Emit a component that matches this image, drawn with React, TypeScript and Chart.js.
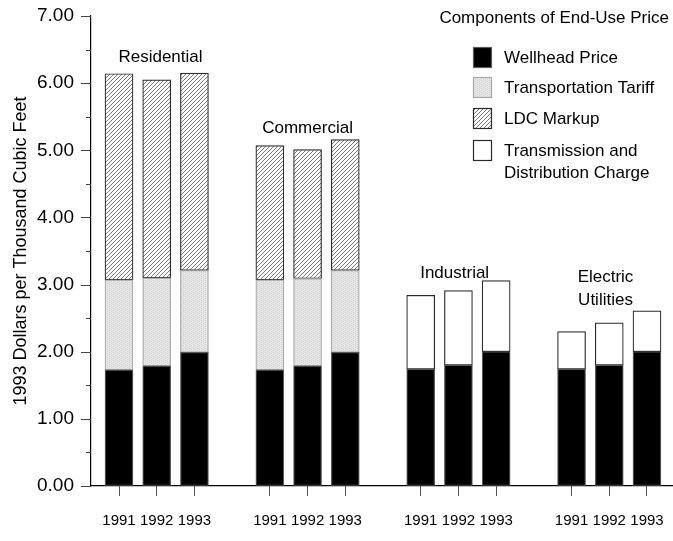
import React, { useEffect, useRef } from "react";
import { Chart, registerables } from "chart.js";

Chart.register(...registerables);

// ---------- data ----------
const groupNames = ["Residential", "Commercial", "Industrial", "Electric\nUtilities"];
const years = ["1991", "1992", "1993"];
const yAxisTitle = "1993 Dollars per Thousand Cubic Feet";
const legendTitle = "Components of End-Use Price";
const seriesNames = ["Wellhead Price", "Transportation Tariff", "LDC Markup", "Transmission and\nDistribution Charge"];

// values per group (1991, 1992, 1993); null = component not shown for that group
const wellheadPrice = [
  [1.73, 1.79, 1.99],
  [1.73, 1.79, 1.99],
  [1.74, 1.8, 2.0],
  [1.74, 1.8, 2.0],
];
const transportationTariff = [
  [1.34, 1.31, 1.22],
  [1.34, 1.3, 1.22],
  null,
  null,
];
const ldcMarkup = [
  [3.07, 2.95, 2.94],
  [2.0, 1.92, 1.95],
  null,
  null,
];
const transmissionDistribution = [
  null,
  null,
  [1.1, 1.11, 1.06],
  [0.56, 0.63, 0.61],
];

// group label anchors in data units: [x (slot), y (value) of last line]
const groupLabelX = [1.1, 5.0, 8.9, 12.9];
const groupLabelY = [6.39, 5.33, 3.17, 2.77];

const FONT = "'Liberation Sans', Arial, Helvetica, sans-serif";

function makeHatch(ctx0: CanvasRenderingContext2D) {
  const c = document.createElement("canvas");
  c.width = 4;
  c.height = 4;
  const g = c.getContext("2d")!;
  g.fillStyle = "#ffffff";
  g.fillRect(0, 0, 4, 4);
  g.strokeStyle = "#5c5c5c";
  g.lineWidth = 0.8;
  g.beginPath();
  g.moveTo(-1, 5);
  g.lineTo(5, -1);
  g.moveTo(-1, 1);
  g.lineTo(1, -1);
  g.moveTo(3, 5);
  g.lineTo(5, 3);
  g.stroke();
  return ctx0.createPattern(c, "repeat")!;
}

function makeStipple(ctx0: CanvasRenderingContext2D) {
  const c = document.createElement("canvas");
  c.width = 4;
  c.height = 4;
  const g = c.getContext("2d")!;
  g.fillStyle = "#e4e4e4";
  g.fillRect(0, 0, 4, 4);
  g.fillStyle = "#d2d2d2";
  g.fillRect(1, 0, 1, 1);
  g.fillRect(1, 2, 1, 1);
  g.fillRect(3, 1, 1, 1);
  g.fillRect(3, 3, 1, 1);
  g.fillStyle = "#eeeeee";
  g.fillRect(0, 1, 1, 1);
  g.fillRect(2, 3, 1, 1);
  return ctx0.createPattern(c, "repeat")!;
}

function toPoints(series: (number[] | null)[]) {
  const pts: { x: number; y: number }[] = [];
  series.forEach((grp, gi) => {
    if (!grp) return;
    grp.forEach((v, yi) => pts.push({ x: gi * (years.length + 1) + yi, y: v }));
  });
  return pts;
}

export default function App() {
  const ref = useRef<HTMLCanvasElement>(null);

  useEffect(() => {
    const canvas = ref.current!;
    const ctx0 = canvas.getContext("2d")!;
    const hatch = makeHatch(ctx0);
    const stipple = makeStipple(ctx0);

    const fills = ["#000000", stipple, hatch, "#ffffff"];
    const borders = ["#5a5a5a", "#a8a8a8", "#2a2a2a", "#2a2a2a"];
    const allSeries = [wellheadPrice, transportationTariff, ldcMarkup, transmissionDistribution];

    const tickPositions: number[] = [];
    groupNames.forEach((_, gi) => years.forEach((__, yi) => tickPositions.push(gi * (years.length + 1) + yi)));

    const decor = {
      id: "decor",
      afterDraw(chart: any) {
        const { ctx, scales, chartArea } = chart;
        const x = scales.x;
        const y = scales.y;
        ctx.save();
        // y tick marks (major & minor)
        ctx.strokeStyle = "#444";
        ctx.lineWidth = 1;
        y.ticks.forEach((t: any) => {
          const py = Math.round(y.getPixelForValue(t.value)) + 0.5;
          const len = Math.abs(t.value - Math.round(t.value)) < 1e-6 ? 10 : 5;
          ctx.beginPath();
          ctx.moveTo(chartArea.left - len, py);
          ctx.lineTo(chartArea.left, py);
          ctx.stroke();
        });

        // group labels
        ctx.font = `17px ${FONT}`;
        ctx.fillStyle = "#000";
        ctx.textAlign = "center";
        ctx.textBaseline = "middle";
        groupNames.forEach((name, gi) => {
          const lines = name.split("\n");
          const cx = x.getPixelForValue(groupLabelX[gi]);
          const lastY = y.getPixelForValue(groupLabelY[gi]);
          lines.forEach((ln, li) => ctx.fillText(ln, cx, lastY - (lines.length - 1 - li) * 23));
        });

        // legend
        ctx.textAlign = "right";
        ctx.fillText(legendTitle, 669, 18);
        const boxX = 473;
        const boxTops = [47, 77, 108, 140];
        ctx.textAlign = "left";
        seriesNames.forEach((nm, i) => {
          ctx.fillStyle = fills[i];
          ctx.fillRect(boxX, boxTops[i], 19, 21);
          ctx.strokeStyle = borders[i];
          ctx.lineWidth = 1.2;
          ctx.strokeRect(boxX + 0.5, boxTops[i] + 0.5, 18, 20);
          ctx.fillStyle = "#000";
          nm.split("\n").forEach((ln, li) => ctx.fillText(ln, 504, boxTops[i] + 11 + li * 22));
        });
        ctx.restore();
      },
    };

    const chart = new Chart(canvas, {
      type: "bar",
      data: {
        datasets: allSeries.map((s, i) => ({
          label: seriesNames[i],
          data: toPoints(s),
          backgroundColor: fills[i] as any,
          borderColor: borders[i],
          borderWidth: 1.2,
          borderSkipped: false,
          barThickness: 28,
        })),
      },
      options: {
        responsive: false,
        animation: false,
        layout: { padding: { top: 16, right: 0, left: 0, bottom: 0 } },
        plugins: { legend: { display: false }, tooltip: { enabled: false } },
        scales: {
          x: {
            type: "linear",
            stacked: true,
            offset: false,
            min: -0.7425,
            max: 14.69,
            afterBuildTicks: (scale: any) => {
              scale.ticks = tickPositions.map((v) => ({ value: v }));
            },
            afterFit: (scale: any) => {
              scale.height = 55;
              scale.paddingLeft = 0;
              scale.paddingRight = 0;
            },
            grid: { offset: false, drawOnChartArea: false, drawTicks: true, tickLength: 10, color: "#555", lineWidth: 1 },
            border: { display: true, color: "#000", width: 1.2 },
            ticks: {
              autoSkip: false,
              maxRotation: 0,
              padding: 16,
              color: "#000",
              font: { family: FONT, size: 15 },
              callback: (v: any) => {
                const idx = Math.round(Number(v)) % (years.length + 1);
                return years[idx] ?? "";
              },
            },
          },
          y: {
            stacked: true,
            min: 0,
            max: 7,
            afterFit: (scale: any) => {
              scale.width = 91;
              scale.paddingTop = 0;
              scale.paddingBottom = 0;
            },
            grid: { drawOnChartArea: false, drawTicks: false },
            border: { display: true, color: "#000", width: 1.2 },
            ticks: {
              stepSize: 0.5,
              autoSkip: false,
              padding: 17,
              color: "#000",
              font: { family: FONT, size: 19 },
              callback: (v: any) => {
                const n = Number(v);
                return Math.abs(n - Math.round(n)) < 1e-6 ? n.toFixed(2) : "";
              },
            },
            title: {
              display: true,
              text: yAxisTitle,
              color: "#000",
              font: { family: FONT, size: 18 },
              padding: { top: 10, bottom: 0 },
            },
          },
        },
      },
      plugins: [decor],
    });

    return () => chart.destroy();
  }, []);

  return (
    <div style={{ position: "absolute", left: 0, top: 0, width: 673, height: 541, background: "#fff" }}>
      <canvas ref={ref} width={673} height={541} style={{ display: "block", width: 673, height: 541 }} />
    </div>
  );
}
